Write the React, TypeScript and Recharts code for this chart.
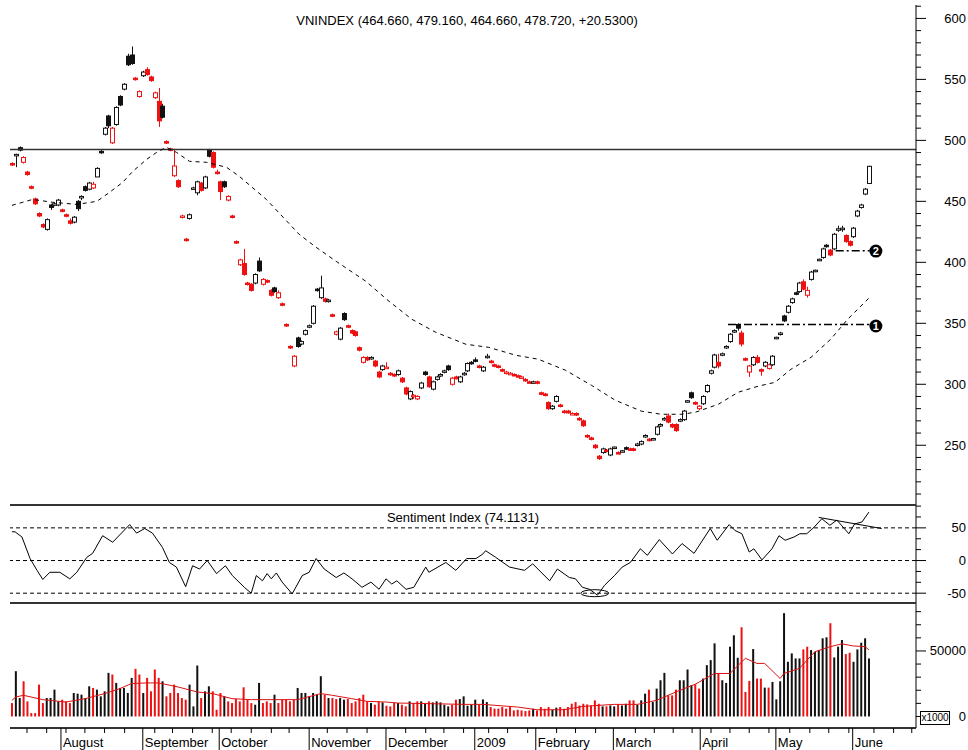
import React from "react";
import { ComposedChart, Bar, Line, XAxis, YAxis, ReferenceLine, ReferenceDot } from "recharts";

const FONT = '"Liberation Sans", Arial, Helvetica, sans-serif';
const RED = "#ee1111";
const BLACK = "#111111";
const BODY_W = 4;
const VOL_W = 2;

const TITLE = "VNINDEX (464.660, 479.160, 464.660, 478.720, +20.5300)";
const SI_TITLE = "Sentiment Index (74.1131)";

const OPEN = [
  481,488,494,482,474,462,452,440,431,427,
  447,447,447,443,439,434,433,450,453,462,
  460,461,470,491,505,520,498,513,536,542,
  569,570,551,536,553,558,552,535,532,528,
  499,493,471,467,437,419,436,461,457,465,
  461,492,490,474,466,466,451,438,417,398,
  399,383,382,383,401,382,385,377,379,371,
  366,349,331,315,338,333,341,347,350,378,
  371,370,368,357,341,337,358,348,344,343,
  330,318,322,321,319,310,312,314,309,308,
  308,305,297,288,290,288,297,310,306,296,
  304,307,310,315,300,306,302,308,311,318,
  320,315,311,322,319,316,315,312,309,309,
  308,307,306,304,302,302,302,293,292,285,
  280,286,283,278,278,276,276,272,270,258,
  256,250,241,244,246,242,248,244,245,248,
  247,247,250,251,257,255,255,259,266,271,
  274,267,267,270,271,286,293,285,280,284,
  294,309,314,318,324,330,335,343,349,342,
  321,310,316,322,312,315,313,316,338,341,
  356,359,367,375,376,384,373,386,393,402,
  404,414,410,411,427,427,422,417,421,438,
  445,456,464.66,
];
const HIGH = [
  482,489,495,487,475,463,453,441,432,436,
  448,449,452,444,440,436,438,451,455,463,
  466,466,478,492,511,521,511,528,537,547,
  571,577,552,541,557,560,553,540,543,530,
  500,494,493,468,439,420,440,462,467,466,
  471,493,491,476,467,467,455,439,418,403,
  411,384,383,391,404,387,386,378,380,377,
  367,350,332,324,339,336,345,349,365,379,
  389,371,370,358,344,347,359,349,345,344,
  331,323,323,323,320,311,316,318,310,309,
  312,306,298,295,292,291,302,311,307,303,
  307,309,312,316,306,307,307,310,318,319,
  322,316,315,325,320,317,316,313,311,310,
  309,308,307,305,303,303,303,294,293,286,
  283,291,284,279,279,277,277,273,271,259,
  257,251,242,248,247,248,249,245,246,249,
  248,248,252,254,259,256,256,266,268,273,
  276,268,268,272,279,287,294,286,283,291,
  300,312,325,325,326,332,342,345,350,344,
  322,316,323,324,313,319,317,324,339,343,
  357,365,371,376,384,386,380,393,394,403,
  412,415,411,424,430,430,423,418,429,443,
  448,461,479.16,
];
const LOW = [
  479,478,491,481,471,460,447,437,428,426,
  443,446,446,441,437,431,432,442,451,458,
  459,460,470,489,504,510,497,512,528,541,
  561,562,549,535,552,553,548,534,511,518,
  497,491,470,461,436,417,435,460,455,458,
  460,486,477,472,451,461,450,436,415,397,
  389,381,376,382,392,381,383,372,375,370,
  364,347,329,314,330,332,340,346,349,376,
  370,367,367,355,340,336,352,346,341,339,
  327,317,319,320,314,305,311,313,307,306,
  307,301,291,287,288,287,296,307,297,295,
  303,306,309,311,299,304,301,307,310,316,
  318,313,310,321,317,314,313,310,308,308,
  307,306,305,302,301,301,300,291,290,279,
  279,285,281,276,276,275,274,270,265,256,
  254,247,238,243,244,241,247,243,244,246,
  246,245,249,250,256,253,254,258,265,270,
  268,264,261,269,270,285,288,283,279,283,
  293,308,313,313,323,329,334,342,344,331,
  319,306,315,317,307,314,312,315,337,340,
  351,358,366,373,375,377,371,385,392,401,
  403,412,405,410,425,425,416,413,420,437,
  444,455,464.66,
];
const CLOSE = [
  480,488.5,492,486,472,461,448,438,429,435,
  445,448,451,442,438,432,437,444,454,459,
  465,464,477,490,510,512,510,527,529,546,
  562,563,550,540,556,554,549,539,516,519,
  498,492,479,462,438,418,439,461,466,459,
  470,487,478,473,458,462,454,437,416,402,
  390,382,377,390,393,386,384,373,376,375,
  365,348,330,323,331,335,344,348,364,377,
  379,368,369,356,343,346,353,347,342,340,
  328,322,320,322,315,306,315,314,308,307,
  311,302,292,294,291,290,301,308,298,302,
  306,308,311,312,305,304.5,306,309,317,317.5,
  319,314,314,323,318,315,314,311,310,309,
  307.5,306.5,306,303,301.5,302,301,292,291,280,
  282,290,282,277,276.5,276,275,271,266,257,
  255,248,239,247,245,247,248.5,243.5,245.5,247,
  246.5,246,251,253,258,254,255.5,265,267,272,
  269,265,262,271,278,286.5,289,284,282,290,
  299,311,324,315,325,331,341,344,346,333,
  320,315,322,318,311,318,316,323,338.5,342,
  352,364,370,374.5,383,378,377,392,393.5,402.5,
  411,413.5,406,423,427.5,428,417,414,428,442,
  447,460,478.72,
];
const VOLUME = [
  10240,34560,14080,26880,11520,2560,2560,24320,10240,14080,
  14080,20480,11520,12800,11520,10240,17920,17400,16640,14080,
  23040,21760,20480,15360,19200,33280,32000,25600,21760,21760,
  17920,29440,36350,32000,17920,29440,19200,35840,29440,26880,
  15360,17920,24320,17920,14080,12800,24320,7680,38900,14080,
  19200,23040,19200,5120,17920,15360,11520,10240,13300,11520,
  22270,12800,10240,8960,25600,10240,11520,10240,16640,10240,
  12800,12800,11520,12800,21760,17920,17920,15360,17920,16640,
  30720,16640,14080,14080,13300,14080,12800,13300,10240,11520,
  14080,16640,11520,10240,8960,11520,10750,8190,7680,10240,
  10240,8960,7680,11520,10240,11520,11520,9730,11520,10750,
  11520,10750,8960,7680,8960,12800,13300,15360,8190,8960,
  12800,8960,13000,11000,7200,6000,6000,7200,6000,7200,
  4600,5100,4600,4100,4600,5900,4600,7200,5900,7200,
  5100,6700,7200,5900,7200,9700,11000,8400,9700,9200,
  8400,12300,9700,7700,7700,8400,7700,9200,8400,9700,
  12300,12300,9000,12300,17400,20480,11000,21250,27650,33280,
  16130,16130,20480,27650,27650,35840,23800,24580,21250,28930,
  39170,43000,55800,32770,27650,25600,53250,61950,44800,68100,
  18690,27140,51460,28930,28930,22020,22020,26370,13060,26880,
  78850,41730,48130,44290,44290,51200,53250,50690,49410,50690,
  59650,60420,71170,45060,53250,58370,47620,48640,41730,51200,
  56320,59650,44290,
];

const MA_POINTS: [number, number][] = [
  [0,446.7],[5.4,451.6],[10.6,449.2],[16.8,447.5],[22,450],[25.3,457.4],[28.7,465.6],
  [31.3,474.6],[34.9,484.4],[37.5,490.2],[40,494.3],[42.6,490.2],[46,482.8],[50.4,482],
  [55.6,477.9],[58.9,470.5],[65.9,451.6],[74.4,423],[78.8,412.3],[84,400.8],[91.7,384.4],
  [97.7,368],[103.6,353.3],[109.8,342.6],[117.6,332.8],[123.5,330.3],[130.5,323.8],
  [136.4,320.5],[143.4,311.5],[150.1,299.2],[156.3,286.9],[163.1,277.9],[168.2,275.4],
  [173.4,275.4],[177,277],[183,283.6],[188.1,293.4],[193.3,298.4],[197.7,301.6],
  [201.8,312.3],[207,322.1],[212.1,336.9],[216.5,353.3],[222.2,371.3],
];

const SI_POINTS: [number, number][] = [
  [0,44],[0.8,44],[2.6,36],[4.7,3],[6.5,-15],[8,-29],[9.8,-18],[12.4,-18],[15,-28],[16.8,-18],
  [19.4,5],[20.9,11],[23.5,38],[26.1,28],[27.4,36],[30.5,55],[32.3,42],[34.4,49],[36.4,42],
  [39,20],[40.8,-3],[42.6,-10],[45,-40],[46.8,-8],[48.6,-13],[50.6,0],[53,-20],[55.3,-8],
  [57.1,-23],[60.2,-41],[62,-50],[63.3,-23],[64.9,-31],[66.1,-20],[67.2,-28],[68.5,-19],
  [70,-33],[72.6,-51],[75.2,-23],[77,-18],[78.8,3],[80.9,-13],[84,-26],[86,-19],[88.1,-28],
  [90.7,-41],[93,-33],[95.1,-44],[96.9,-28],[98.4,-36],[99.7,-31],[102.1,-44],[104.1,-41],
  [107.2,-10],[108,-18],[112.4,-3],[115,-15],[117.8,3],[120.2,3],[122,10],[122.7,15],
  [125.3,5],[128.9,-10],[132.8,-15],[134.9,-5],[139.3,-31],[141.3,-13],[144.4,-26],[146,-28],
  [147.8,-41],[149.6,-44],[151.7,-53],[153.5,-38],[156.1,-23],[158.1,-10],[160.2,-3],
  [162.8,18],[164.6,8],[167.7,32],[171.1,10],[173.6,26],[176.7,11],[180.9,49],[182.7,31],
  [185.8,55],[187.3,46],[189.1,41],[191,13],[192.2,18],[194.3,1],[196.9,18],[198.7,38],
  [200.3,31],[202.6,36],[204.1,41],[205.9,41],[207.8,51],[209.8,64],[211.9,54],[213.7,62],
  [216.8,41],[218.3,56],[220.2,59],[222,74.1],
];

const VOL_MA_POINTS: [number, number][] = [
  [0,12300],[1,14850],[3,16150],[8,12840],[14,11000],[19,13600],[24,17450],[28,21300],
  [31,25150],[35,25600],[38,25600],[43,22550],[48,18700],[52,17450],[57,13600],[62,12840],
  [68,12840],[74,12840],[80,17450],[83,16150],[88,13600],[92,11540],[97,11000],[100,10250],
  [109,9740],[117,9230],[122,9230],[131,7180],[136,5130],[143,5130],[148,7690],[156,9230],
  [162,9230],[167,12300],[172,18700],[177,24600],[182,32800],[186,32800],[190,44400],
  [193,40500],[195,40500],[199,29000],[200,32800],[204,36700],[208,49400],[212,53300],
  [215,55400],[218,53800],[221,53300],[222,50800],
];

const MONTH_LABELS = ["August","September","October","November","December","2009","February","March","April","May","June"];
const MONTH_POS = [12.7,33.9,53.7,77,96.9,119.9,135.7,155.8,178.3,197.9,217.8];
const WEEK_POS = [3.9,9,14,18.9,24,29.2,37,41.6,46.8,51.9,56.8,62,67.2,71.8,81.7,86.8,92,102,107.2,111.9,117,123.5,128.4,133.6,141.1,146,151.2,161.5,166.4,171.3,176.2,181.1,186,191,196.1,201.5,206.7,211.6,216.8,223.3,228.4,233.1];
const TIME_TICKS = [...MONTH_POS, ...WEEK_POS].sort((a, b) => a - b);

const PRICE_TICKS = [210,220,230,240,250,260,270,280,290,300,310,320,330,340,350,360,370,380,390,400,410,420,430,440,450,460,470,480,490,500,510,520,530,540,550,560,570,580,590,600,610];
const PRICE_LABELS = [250,300,350,400,450,500,550,600];
const SI_TICKS = [-50,-33.3,-16.7,0,16.7,33.3,50,66.7,83.3];
const SI_LABELS = [-50,0,50];
const VOL_TICKS = [0,10000,20000,30000,40000,50000,60000,70000,80000];
const VOL_LABELS = [0,50000];

const RESISTANCE = 492.6;
const LEVEL_1 = 349;
const LEVEL_1_START = 185.5;
const LEVEL_2 = 409.5;
const LEVEL_2_START = 213.4;
const LEVEL_END = 222.2;
const MARK_X = 223.8;
const MARK_1_Y = 347.8;
const MARK_2_Y = 409.2;
const SI_TREND: [number, number][] = [[209, 66], [225.3, 49]];
const SI_OVAL: [number, number] = [151, -50];

const X_DOMAIN: [number, number] = [-0.5, 234.2];

const candles = CLOSE.map((c, i) => {
  const prev = i > 0 ? CLOSE[i - 1] : OPEN[0];
  return {
    i,
    range: [LOW[i], HIGH[i]],
    o: OPEN[i],
    h: HIGH[i],
    l: LOW[i],
    c,
    vol: VOLUME[i],
    col: c >= prev ? BLACK : RED,
  };
});
const maData = MA_POINTS.map(([i, v]) => ({ i, ma: v }));
const siData = SI_POINTS.map(([i, v]) => ({ i, si: v }));
const volMaData = VOL_MA_POINTS.map(([i, v]) => ({ i, vma: v }));

const Candle = (p: any) => {
  const { x, y, width, height, payload } = p;
  if (!payload || x == null) return null;
  const { o, h, l, c, col } = payload;
  const top = Math.min(y, y + height);
  const hh = Math.abs(height);
  const span = h - l || 1;
  const py = (v: number) => top + ((h - v) / span) * hh;
  const cx = Math.round(x + width / 2) + 0.5;
  const bTop = py(Math.max(o, c));
  const bBot = py(Math.min(o, c));
  const filled = c < o;
  const left = cx - BODY_W / 2;
  return (
    <g>
      <line x1={cx} x2={cx} y1={top} y2={top + hh} stroke={col} strokeWidth={1} />
      <rect
        x={left}
        y={bTop}
        width={BODY_W}
        height={Math.max(bBot - bTop, 1.5)}
        fill={filled ? col : "#ffffff"}
        stroke={col}
        strokeWidth={1}
      />
    </g>
  );
};

const VolBar = (p: any) => {
  const { x, y, width, height, payload } = p;
  if (!payload || x == null) return null;
  const t = Math.min(y, y + height);
  const cx = x + width / 2;
  return <rect x={cx - VOL_W / 2} y={t} width={VOL_W} height={Math.abs(height)} fill={payload.col} />;
};

const makeYTick = (labels: number[]) => (p: any) => {
  const { x, y, payload } = p;
  const v = payload.value;
  const major = labels.some((l) => Math.abs(l - v) < 1e-6);
  return (
    <g>
      <line x1={x} y1={y} x2={x + (major ? 10 : 5)} y2={y} stroke="#000" strokeWidth={1} />
      {major && (
        <text x={x + 50} y={y + 4.5} textAnchor="end" fontSize={13} fontFamily={FONT} fill="#000">
          {v}
        </text>
      )}
    </g>
  );
};

const PriceTick = makeYTick(PRICE_LABELS);
const SiTick = makeYTick(SI_LABELS);
const VolTick = makeYTick(VOL_LABELS);

const TimeTick = (p: any) => {
  const { x, y, payload } = p;
  const idx = MONTH_POS.indexOf(payload.value);
  if (idx >= 0) {
    return (
      <g>
        <line x1={x} x2={x} y1={y} y2={y + 24} stroke="#000" strokeWidth={1} />
        <text x={x + 2} y={y + 19} fontSize={13} fontFamily={FONT} fill="#000">
          {MONTH_LABELS[idx]}
        </text>
      </g>
    );
  }
  return <line x1={x} x2={x} y1={y} y2={y + 5} stroke="#000" strokeWidth={1} />;
};

const numberMark = (label: string) => (p: any) => {
  if (p.cx == null) return null;
  return (
    <g>
      <circle cx={p.cx} cy={p.cy} r={6.5} fill="#000" />
      <text x={p.cx} y={p.cy + 4} textAnchor="middle" fontSize={11} fontWeight="bold" fontFamily={FONT} fill="#fff">
        {label}
      </text>
    </g>
  );
};

const ovalShape = (p: any) => {
  if (p.cx == null) return null;
  return <ellipse cx={p.cx} cy={p.cy} rx={14} ry={3.5} fill="none" stroke="#000" strokeWidth={1} />;
};

const yAxisCommon = {
  orientation: "right" as const,
  width: 52,
  type: "number" as const,
  allowDataOverflow: true,
  interval: 0 as const,
  tickSize: 0,
  tickMargin: 0,
  tickLine: false,
  axisLine: { stroke: "#000", strokeWidth: 1 },
};

export default function App() {
  return (
    <div
      style={{
        position: "absolute",
        left: 0,
        top: 0,
        width: 968,
        height: 750,
        background: "#fff",
        overflow: "hidden",
        fontFamily: FONT,
      }}
    >
      <div style={{ position: "absolute", left: 0, top: 0 }}>
        <ComposedChart width={968} height={505} data={candles} margin={{ top: 5, right: 0, bottom: 0, left: 10 }}>
          <XAxis dataKey="i" type="number" domain={X_DOMAIN} allowDataOverflow hide />
          <YAxis {...yAxisCommon} domain={[201, 611]} ticks={PRICE_TICKS} tick={(p: any) => <PriceTick {...p} />} />
          <ReferenceLine y={RESISTANCE} stroke="#333" strokeWidth={1.5} />
          <Line
            data={maData}
            dataKey="ma"
            type="linear"
            stroke="#000"
            strokeWidth={1}
            strokeDasharray="4 4"
            dot={false}
            activeDot={false}
            isAnimationActive={false}
          />
          <Bar dataKey="range" barSize={3} shape={(p: any) => <Candle {...p} />} isAnimationActive={false} />
          <ReferenceLine
            segment={[{ x: LEVEL_1_START, y: LEVEL_1 }, { x: LEVEL_END, y: LEVEL_1 }]}
            stroke="#000"
            strokeWidth={1.5}
            strokeDasharray="8 3 2 3"
          />
          <ReferenceLine
            segment={[{ x: LEVEL_2_START, y: LEVEL_2 }, { x: LEVEL_END, y: LEVEL_2 }]}
            stroke="#000"
            strokeWidth={1.5}
            strokeDasharray="8 3 2 3"
          />
          <ReferenceDot x={MARK_X} y={MARK_1_Y} r={6.5} shape={numberMark("1")} />
          <ReferenceDot x={MARK_X} y={MARK_2_Y} r={6.5} shape={numberMark("2")} />
        </ComposedChart>
      </div>

      <div style={{ position: "absolute", left: 0, top: 505 }}>
        <ComposedChart width={968} height={98} data={siData} margin={{ top: 0, right: 0, bottom: 0, left: 10 }}>
          <XAxis dataKey="i" type="number" domain={X_DOMAIN} allowDataOverflow hide />
          <YAxis {...yAxisCommon} domain={[-65, 85]} ticks={SI_TICKS} tick={(p: any) => <SiTick {...p} />} />
          <ReferenceLine y={50} stroke="#000" strokeDasharray="4 3" />
          <ReferenceLine y={0} stroke="#000" strokeDasharray="4 3" />
          <ReferenceLine y={-50} stroke="#000" strokeDasharray="4 3" />
          <Line
            dataKey="si"
            type="linear"
            stroke="#000"
            strokeWidth={1}
            dot={false}
            activeDot={false}
            isAnimationActive={false}
          />
          <ReferenceLine
            segment={[{ x: SI_TREND[0][0], y: SI_TREND[0][1] }, { x: SI_TREND[1][0], y: SI_TREND[1][1] }]}
            stroke="#000"
            strokeWidth={1}
          />
          <ReferenceDot x={SI_OVAL[0]} y={SI_OVAL[1]} r={4} shape={ovalShape} />
        </ComposedChart>
      </div>

      <div style={{ position: "absolute", left: 0, top: 603 }}>
        <ComposedChart width={968} height={147} data={candles} margin={{ top: 0, right: 0, bottom: 0, left: 10 }}>
          <XAxis
            dataKey="i"
            type="number"
            domain={X_DOMAIN}
            allowDataOverflow
            height={22}
            ticks={TIME_TICKS}
            interval={0}
            tickSize={0}
            tickMargin={0}
            tickLine={false}
            axisLine={{ stroke: "#333", strokeWidth: 2 }}
            tick={(p: any) => <TimeTick {...p} />}
          />
          <YAxis {...yAxisCommon} domain={[-8800, 86600]} ticks={VOL_TICKS} tick={(p: any) => <VolTick {...p} />} />
          <Bar dataKey="vol" barSize={2} shape={(p: any) => <VolBar {...p} />} isAnimationActive={false} />
          <Line
            data={volMaData}
            dataKey="vma"
            type="linear"
            stroke="#dd1111"
            strokeWidth={1}
            dot={false}
            activeDot={false}
            isAnimationActive={false}
          />
        </ComposedChart>
      </div>

      <div style={{ position: "absolute", left: 10, top: 504, width: 906, height: 2, background: "#333" }} />
      <div style={{ position: "absolute", left: 10, top: 602, width: 906, height: 2, background: "#333" }} />

      <div
        style={{
          position: "absolute",
          left: 167,
          top: 13,
          width: 600,
          textAlign: "center",
          fontSize: 13,
          lineHeight: "15px",
          color: "#000",
          whiteSpace: "nowrap",
        }}
      >
        {TITLE}
      </div>
      <div
        style={{
          position: "absolute",
          left: 263,
          top: 510,
          width: 400,
          textAlign: "center",
          fontSize: 13,
          lineHeight: "15px",
          color: "#000",
          whiteSpace: "nowrap",
        }}
      >
        {SI_TITLE}
      </div>
      <div
        style={{
          position: "absolute",
          left: 920,
          top: 711,
          width: 28,
          height: 12,
          border: "1px solid #000",
          fontSize: 10,
          lineHeight: "12px",
          textAlign: "center",
          color: "#000",
          background: "#fff",
        }}
      >
        x1000
      </div>
    </div>
  );
}
